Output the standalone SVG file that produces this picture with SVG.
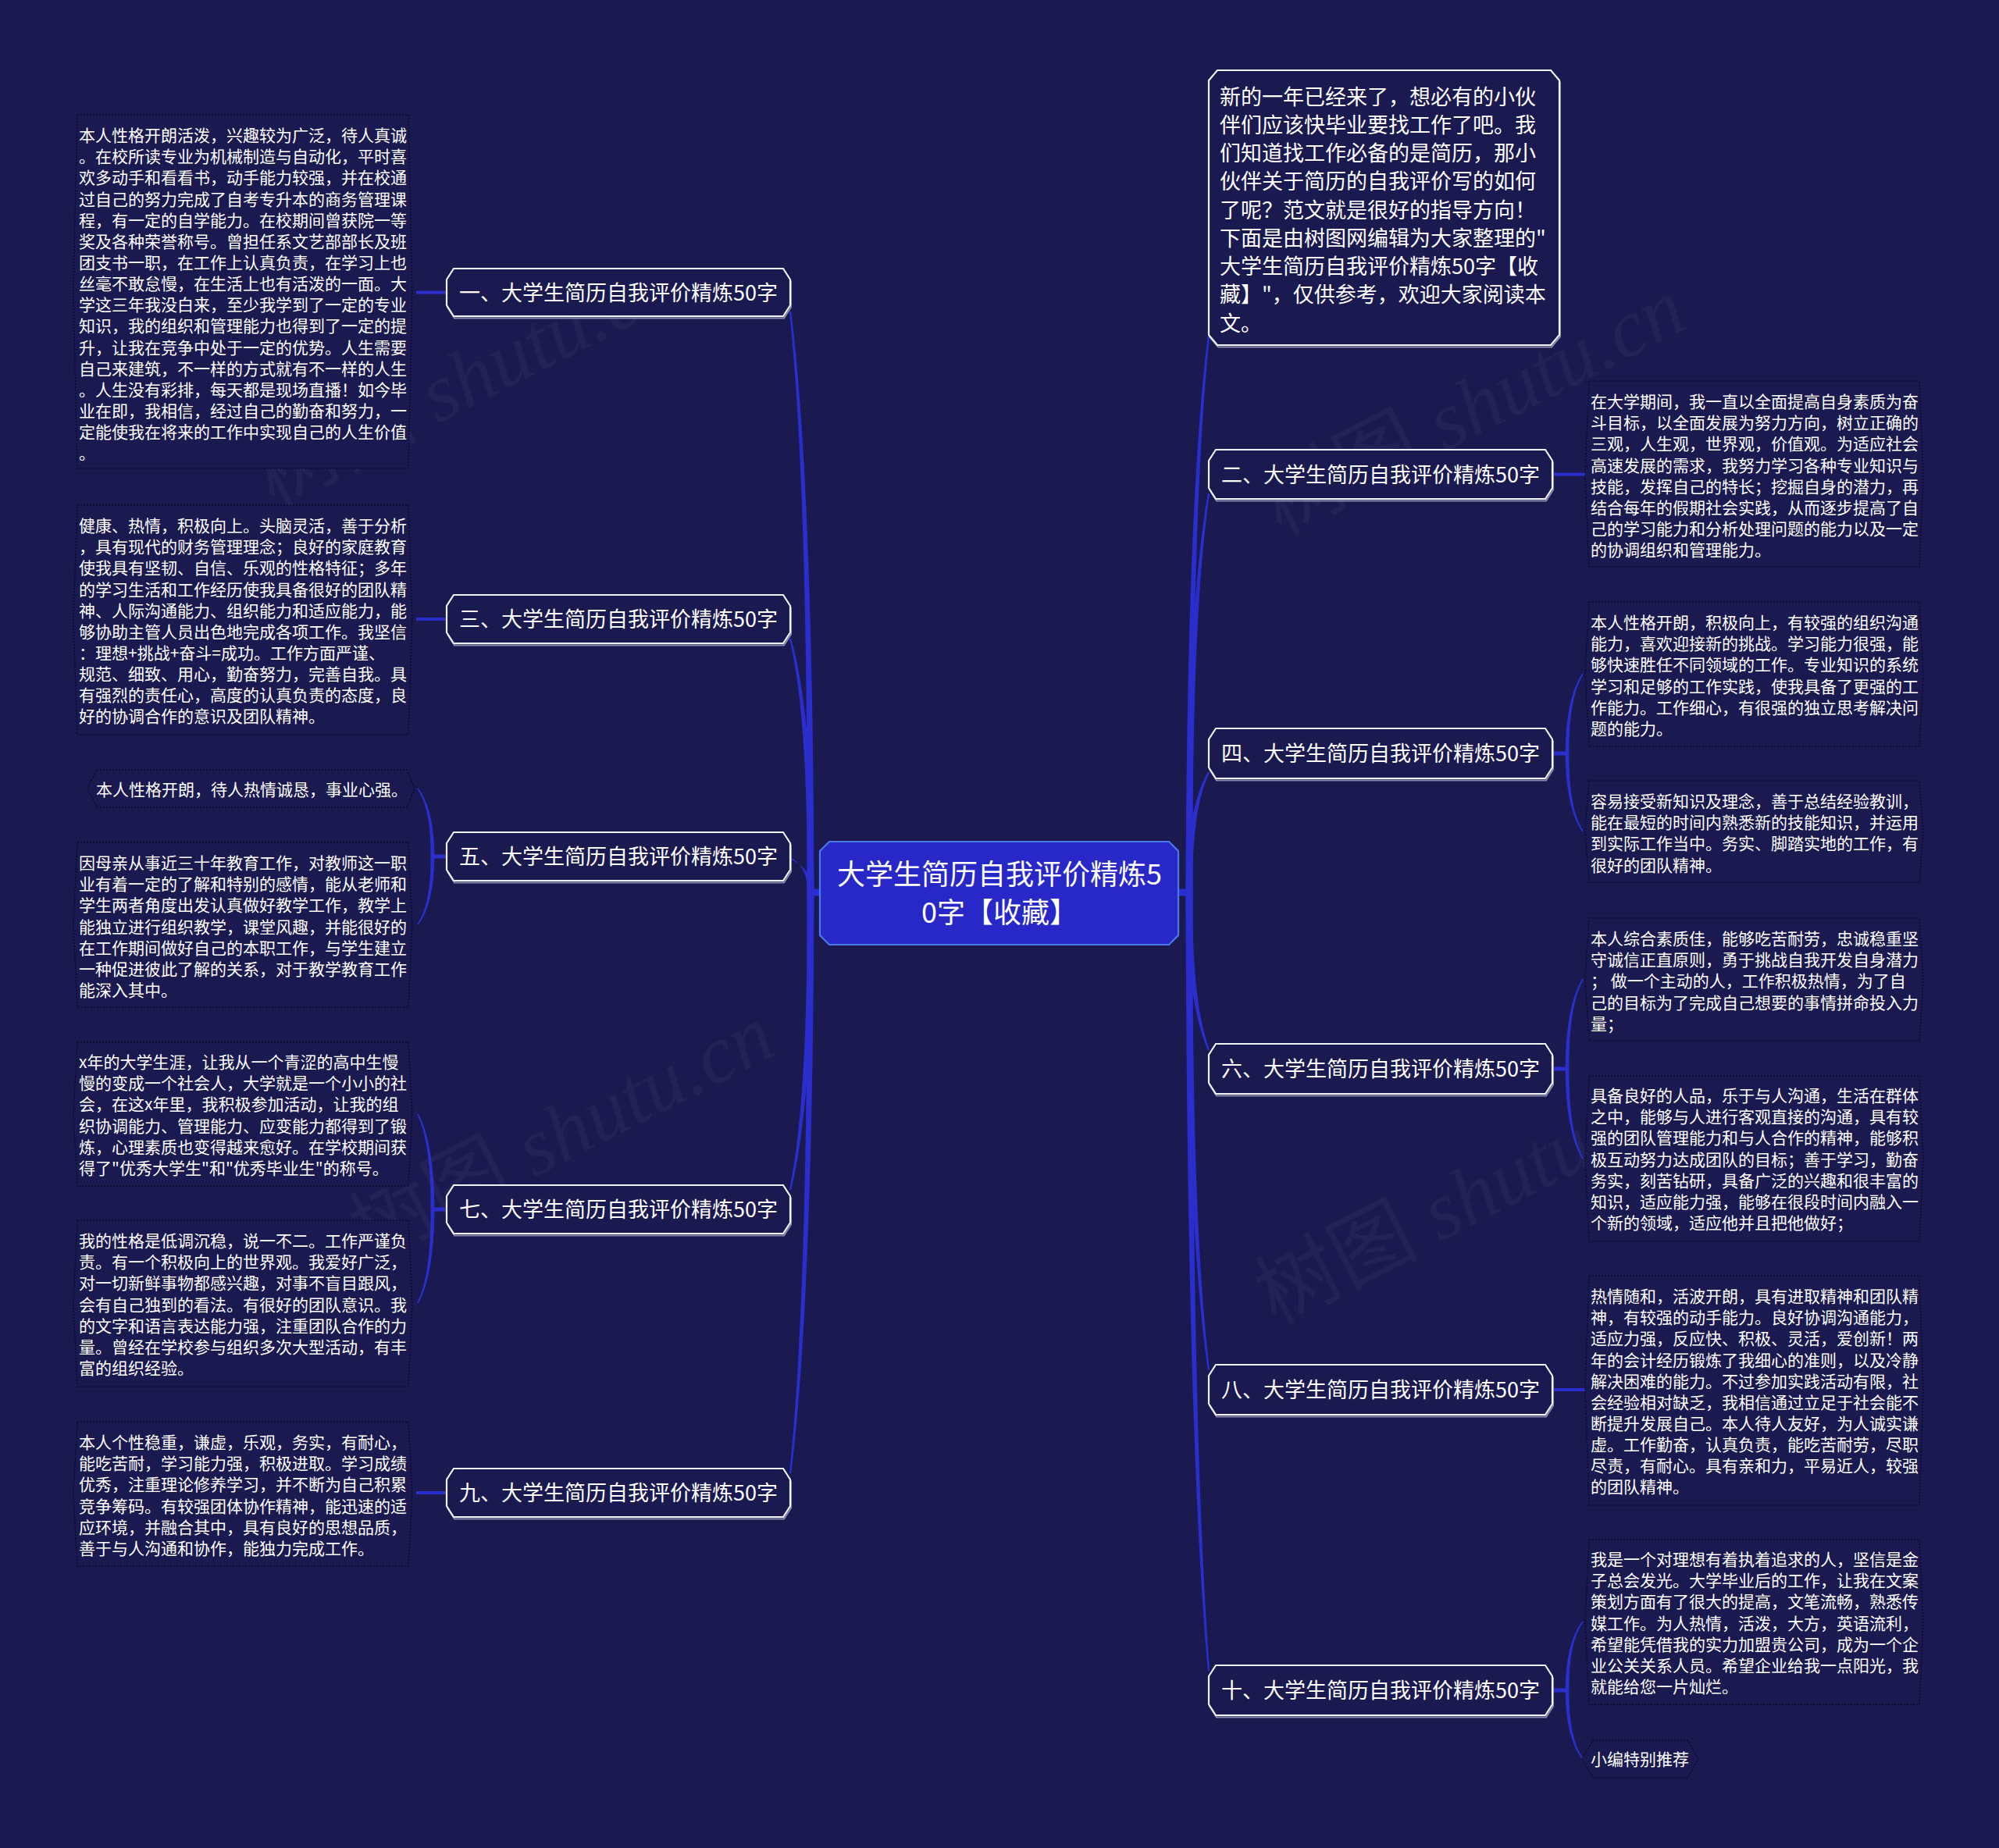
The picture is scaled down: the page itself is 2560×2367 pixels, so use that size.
<svg xmlns="http://www.w3.org/2000/svg" xmlns:xlink="http://www.w3.org/1999/xlink" width="2560" height="2367" viewBox="0 0 2560 2367">
<style>
.bg{fill:#1A1950}
.conn{fill:#2A2ECC}
.cl{stroke:#2A2ECC;fill:none}
.nd{fill:#1A1950;stroke:#F2F2FA;stroke-width:2.2}
.sh{fill:none;stroke:#8A8AAA;stroke-width:2}
.root{fill:#2828C8;stroke:#4A78E6;stroke-width:2.2}
.leaf{fill:#1A1950;stroke:#0A0A2C;stroke-width:1.3;stroke-dasharray:2 2}
.t{font-family:"Noto Sans CJK SC","Noto Sans",sans-serif;fill:#FFFFFF}
.tl{font-size:21px}
.tb{font-size:27px}
.tr{font-size:36px}
.wm{font-family:"Liberation Serif","Noto Sans CJK SC",serif;font-size:105px;fill:#FFFFFF;fill-opacity:0.04}
</style>
<defs>
<polygon id="n1" points="581,344 1003,344 1012,358 1012,391 1003,405 581,405 572,391 572,358"/>
<polygon id="n3" points="581,762 1003,762 1012,776 1012,810 1003,824 581,824 572,810 572,776"/>
<polygon id="n5" points="581,1066 1003,1066 1012,1080 1012,1114 1003,1128 581,1128 572,1114 572,1080"/>
<polygon id="n7" points="581,1518 1003,1518 1012,1532 1012,1566 1003,1580 581,1580 572,1566 572,1532"/>
<polygon id="n9" points="581,1881 1003,1881 1012,1895 1012,1929 1003,1943 581,1943 572,1929 572,1895"/>
<polygon id="n2" points="1557,576 1979,576 1988,590 1988,625 1979,639 1557,639 1548,625 1548,590"/>
<polygon id="n4" points="1557,933 1979,933 1988,947 1988,983 1979,997 1557,997 1548,983 1548,947"/>
<polygon id="n6" points="1557,1337 1979,1337 1988,1351 1988,1387 1979,1401 1557,1401 1548,1387 1548,1351"/>
<polygon id="n8" points="1557,1748 1979,1748 1988,1762 1988,1798 1979,1812 1557,1812 1548,1798 1548,1762"/>
<polygon id="n10" points="1557,2133 1979,2133 1988,2147 1988,2183 1979,2197 1557,2197 1548,2183 1548,2147"/>
<polygon id="ni" points="1559,90 1986,90 1997,103 1997,429 1986,442 1559,442 1548,429 1548,103"/>
</defs>
<rect class="bg" x="0" y="0" width="2560" height="2367"/>

<g id="watermarks">
<text class="wm" transform="translate(350,650) rotate(-27)">树图 <tspan font-style="italic">shutu.cn</tspan></text>
<text class="wm" transform="translate(1640,686) rotate(-27)">树图 <tspan font-style="italic">shutu.cn</tspan></text>
<text class="wm" transform="translate(473,1616) rotate(-27)">树图 <tspan font-style="italic">shutu.cn</tspan></text>
<text class="wm" transform="translate(1633,1698) rotate(-27)">树图 <tspan font-style="italic">shutu.cn</tspan></text>
</g>

<g id="connectors">
<rect class="conn" x="1034" y="1138.5" width="18" height="9"/>
<rect class="conn" x="1507" y="1138.5" width="18" height="9"/>
<path class="conn" d="M1033.5,1143 Q1035.1,622 1010.8,399 L1013.2,399 Q1040.9,622 1042.5,1143Z"/>
<path class="conn" d="M1033.5,1143 Q1035.1,915.5 1010.8,818 L1013.2,818 Q1040.9,915.5 1042.5,1143Z"/>
<path class="conn" d="M1033.5,1143 Q1035,1110 1012,1097.8 L1012,1100.2 Q1041,1114 1042.5,1143Z"/>
<path class="conn" d="M1033.5,1143 Q1035.1,1409.7 1010.8,1524 L1013.2,1524 Q1040.9,1409.7 1042.5,1143Z"/>
<path class="conn" d="M1033.5,1143 Q1035.1,1663.8 1010.8,1887 L1013.2,1887 Q1040.9,1663.8 1042.5,1143Z"/>
<path class="conn" d="M1518.5,1143 Q1520.1,643.9 1546.8,430 L1549.2,430 Q1525.9,643.9 1527.5,1143Z"/>
<path class="conn" d="M1518.5,1143 Q1520.1,785.3 1546.8,632 L1549.2,632 Q1525.9,785.3 1527.5,1143Z"/>
<path class="conn" d="M1518.5,1143 Q1520.1,1035.2 1546.8,989 L1549.2,989 Q1525.9,1035.2 1527.5,1143Z"/>
<path class="conn" d="M1518.5,1143 Q1520.1,1284.4 1546.8,1345 L1549.2,1345 Q1525.9,1284.4 1527.5,1143Z"/>
<path class="conn" d="M1518.5,1143 Q1520.1,1571.4 1546.8,1755 L1549.2,1755 Q1525.9,1571.4 1527.5,1143Z"/>
<path class="conn" d="M1518.5,1143 Q1520.1,1840.9 1546.8,2140 L1549.2,2140 Q1525.9,1840.9 1527.5,1143Z"/>
<line class="cl" x1="533" y1="374.5" x2="573" y2="374.5" stroke-width="4"/>
<line class="cl" x1="533" y1="793" x2="573" y2="793" stroke-width="4"/>
<line class="cl" x1="533" y1="1912" x2="573" y2="1912" stroke-width="4"/>
<line class="cl" x1="1987" y1="607.5" x2="2031" y2="607.5" stroke-width="4"/>
<line class="cl" x1="1987" y1="1780" x2="2031" y2="1780" stroke-width="4"/>
<line class="cl" x1="552" y1="1097" x2="573" y2="1097" stroke-width="5"/>
<line class="cl" x1="552" y1="1549" x2="573" y2="1549" stroke-width="5"/>
<line class="cl" x1="1987" y1="965" x2="2009" y2="965" stroke-width="5"/>
<line class="cl" x1="1987" y1="1369" x2="2009" y2="1369" stroke-width="5"/>
<line class="cl" x1="1987" y1="2165" x2="2009" y2="2165" stroke-width="5"/>
<path class="conn" d="M551.5,1097 Q552.3,1036.1 534,1010 L536,1010 Q555.7,1036.1 556.5,1097Z"/>
<path class="conn" d="M551.5,1097 Q552.3,1157.9 534,1184 L536,1184 Q555.7,1157.9 556.5,1097Z"/>
<path class="conn" d="M551.5,1549 Q552.3,1463.6 534,1427 L536,1427 Q555.7,1463.6 556.5,1549Z"/>
<path class="conn" d="M551.5,1549 Q552.3,1633 534,1669 L536,1669 Q555.7,1633 556.5,1549Z"/>
<path class="conn" d="M2004.5,965 Q2005.3,893.6 2026,863 L2028,863 Q2008.7,893.6 2009.5,965Z"/>
<path class="conn" d="M2004.5,965 Q2005.3,1035 2026,1065 L2028,1065 Q2008.7,1035 2009.5,965Z"/>
<path class="conn" d="M2004.5,1369 Q2005.3,1288.5 2026,1254 L2028,1254 Q2008.7,1288.5 2009.5,1369Z"/>
<path class="conn" d="M2004.5,1369 Q2005.3,1449.5 2026,1484 L2028,1484 Q2008.7,1449.5 2009.5,1369Z"/>
<path class="conn" d="M2004.5,2165 Q2005.3,2103.4 2026,2077 L2028,2077 Q2008.7,2103.4 2009.5,2165Z"/>
<path class="conn" d="M2004.5,2165 Q2005.3,2226.6 2026,2253 L2028,2253 Q2008.7,2226.6 2009.5,2165Z"/>
</g>

<g id="root">
<polygon class="root" points="1062,1078 1497,1078 1509,1090 1509,1198 1497,1210 1062,1210 1050,1198 1050,1090"/>
<text class="t tr" text-anchor="middle"><tspan x="1280" y="1132.5">大学生简历自我评价精炼5</tspan><tspan x="1280" y="1181.5">0字【收藏】</tspan></text>
</g>

<g id="intro">
<use xlink:href="#ni" class="sh" transform="translate(1,2.5)"/>
<use xlink:href="#ni" class="nd"/>
<text class="t tb"><tspan x="1562" y="133.6">新的一年已经来了，想必有的小伙</tspan><tspan x="1562" y="169.9">伴们应该快毕业要找工作了吧。我</tspan><tspan x="1562" y="206.1">们知道找工作必备的是简历，那小</tspan><tspan x="1562" y="242.4">伙伴关于简历的自我评价写的如何</tspan><tspan x="1562" y="278.6">了呢？范文就是很好的指导方向！</tspan><tspan x="1562" y="314.9">下面是由树图网编辑为大家整理的"</tspan><tspan x="1562" y="351.1">大学生简历自我评价精炼50字【收</tspan><tspan x="1562" y="387.4">藏】"，仅供参考，欢迎大家阅读本</tspan><tspan x="1562" y="423.6">文。</tspan></text>
</g>

<g id="b1">
<use xlink:href="#n1" class="sh" transform="translate(1,2.5)"/>
<use xlink:href="#n1" class="nd"/>
<text class="t tb" x="792" y="384.5" text-anchor="middle">一、大学生简历自我评价精炼50字</text>
</g>
<g id="b3">
<use xlink:href="#n3" class="sh" transform="translate(1,2.5)"/>
<use xlink:href="#n3" class="nd"/>
<text class="t tb" x="792" y="803" text-anchor="middle">三、大学生简历自我评价精炼50字</text>
</g>
<g id="b5">
<use xlink:href="#n5" class="sh" transform="translate(1,2.5)"/>
<use xlink:href="#n5" class="nd"/>
<text class="t tb" x="792" y="1107" text-anchor="middle">五、大学生简历自我评价精炼50字</text>
</g>
<g id="b7">
<use xlink:href="#n7" class="sh" transform="translate(1,2.5)"/>
<use xlink:href="#n7" class="nd"/>
<text class="t tb" x="792" y="1559" text-anchor="middle">七、大学生简历自我评价精炼50字</text>
</g>
<g id="b9">
<use xlink:href="#n9" class="sh" transform="translate(1,2.5)"/>
<use xlink:href="#n9" class="nd"/>
<text class="t tb" x="792" y="1922" text-anchor="middle">九、大学生简历自我评价精炼50字</text>
</g>
<g id="b2">
<use xlink:href="#n2" class="sh" transform="translate(1,2.5)"/>
<use xlink:href="#n2" class="nd"/>
<text class="t tb" x="1768" y="617.5" text-anchor="middle">二、大学生简历自我评价精炼50字</text>
</g>
<g id="b4">
<use xlink:href="#n4" class="sh" transform="translate(1,2.5)"/>
<use xlink:href="#n4" class="nd"/>
<text class="t tb" x="1768" y="975" text-anchor="middle">四、大学生简历自我评价精炼50字</text>
</g>
<g id="b6">
<use xlink:href="#n6" class="sh" transform="translate(1,2.5)"/>
<use xlink:href="#n6" class="nd"/>
<text class="t tb" x="1768" y="1379" text-anchor="middle">六、大学生简历自我评价精炼50字</text>
</g>
<g id="b8">
<use xlink:href="#n8" class="sh" transform="translate(1,2.5)"/>
<use xlink:href="#n8" class="nd"/>
<text class="t tb" x="1768" y="1790" text-anchor="middle">八、大学生简历自我评价精炼50字</text>
</g>
<g id="b10">
<use xlink:href="#n10" class="sh" transform="translate(1,2.5)"/>
<use xlink:href="#n10" class="nd"/>
<text class="t tb" x="1768" y="2175" text-anchor="middle">十、大学生简历自我评价精炼50字</text>
</g>

<g id="leaf1">
<polygon class="leaf" points="99,147 523,147 528,373.5 523,600 99,600 94,373.5"/>
<text class="t tl"><tspan x="101" y="181">本人性格开朗活泼，兴趣较为广泛，待人真诚</tspan><tspan x="101" y="208.2">。在校所读专业为机械制造与自动化，平时喜</tspan><tspan x="101" y="235.3">欢多动手和看看书，动手能力较强，并在校通</tspan><tspan x="101" y="262.5">过自己的努力完成了自考专升本的商务管理课</tspan><tspan x="101" y="289.6">程，有一定的自学能力。在校期间曾获院一等</tspan><tspan x="101" y="316.8">奖及各种荣誉称号。曾担任系文艺部部长及班</tspan><tspan x="101" y="343.9">团支书一职，在工作上认真负责，在学习上也</tspan><tspan x="101" y="371.1">丝毫不敢怠慢，在生活上也有活泼的一面。大</tspan><tspan x="101" y="398.2">学这三年我没白来，至少我学到了一定的专业</tspan><tspan x="101" y="425.4">知识，我的组织和管理能力也得到了一定的提</tspan><tspan x="101" y="452.5">升，让我在竞争中处于一定的优势。人生需要</tspan><tspan x="101" y="479.7">自己来建筑，不一样的方式就有不一样的人生</tspan><tspan x="101" y="506.8">。人生没有彩排，每天都是现场直播！如今毕</tspan><tspan x="101" y="534">业在即，我相信，经过自己的勤奋和努力，一</tspan><tspan x="101" y="561.1">定能使我在将来的工作中实现自己的人生价值</tspan><tspan x="101" y="588.3">。</tspan></text>
</g>

<g id="leaf3">
<polygon class="leaf" points="99,647 523,647 528,794 523,941 99,941 94,794"/>
<text class="t tl"><tspan x="101" y="681">健康、热情，积极向上。头脑灵活，善于分析</tspan><tspan x="101" y="708.2">，具有现代的财务管理理念；良好的家庭教育</tspan><tspan x="101" y="735.3">使我具有坚韧、自信、乐观的性格特征；多年</tspan><tspan x="101" y="762.5">的学习生活和工作经历使我具备很好的团队精</tspan><tspan x="101" y="789.6">神、人际沟通能力、组织能力和适应能力，能</tspan><tspan x="101" y="816.8">够协助主管人员出色地完成各项工作。我坚信</tspan><tspan x="101" y="843.9">：理想+挑战+奋斗=成功。工作方面严谨、</tspan><tspan x="101" y="871.1">规范、细致、用心，勤奋努力，完善自我。具</tspan><tspan x="101" y="898.2">有强烈的责任心，高度的认真负责的态度，良</tspan><tspan x="101" y="925.4">好的协调合作的意识及团队精神。</tspan></text>
</g>

<g id="leaf5a">
<polygon class="leaf" points="124,986 521,986 531,1010 521,1034 124,1034 112,1010"/>
<text class="t tl" x="123" y="1019">本人性格开朗，待人热情诚恳，事业心强。</text>
</g>

<g id="leaf5b">
<polygon class="leaf" points="99,1079 523,1079 528,1184.5 523,1290 99,1290 94,1184.5"/>
<text class="t tl"><tspan x="101" y="1113">因母亲从事近三十年教育工作，对教师这一职</tspan><tspan x="101" y="1140.2">业有着一定的了解和特别的感情，能从老师和</tspan><tspan x="101" y="1167.3">学生两者角度出发认真做好教学工作，教学上</tspan><tspan x="101" y="1194.5">能独立进行组织教学，课堂风趣，并能很好的</tspan><tspan x="101" y="1221.6">在工作期间做好自己的本职工作，与学生建立</tspan><tspan x="101" y="1248.8">一种促进彼此了解的关系，对于教学教育工作</tspan><tspan x="101" y="1275.9">能深入其中。</tspan></text>
</g>

<g id="leaf7a">
<polygon class="leaf" points="99,1335 523,1335 528,1427 523,1519 99,1519 94,1427"/>
<text class="t tl"><tspan x="101" y="1368">x年的大学生涯，让我从一个青涩的高中生慢</tspan><tspan x="101" y="1395.2">慢的变成一个社会人，大学就是一个小小的社</tspan><tspan x="101" y="1422.3">会，在这x年里，我积极参加活动，让我的组</tspan><tspan x="101" y="1449.5">织协调能力、管理能力、应变能力都得到了锻</tspan><tspan x="101" y="1476.6">炼，心理素质也变得越来愈好。在学校期间获</tspan><tspan x="101" y="1503.8">得了"优秀大学生"和"优秀毕业生"的称号。</tspan></text>
</g>

<g id="leaf7b">
<polygon class="leaf" points="99,1563 523,1563 528,1669.5 523,1776 99,1776 94,1669.5"/>
<text class="t tl"><tspan x="101" y="1597">我的性格是低调沉稳，说一不二。工作严谨负</tspan><tspan x="101" y="1624.2">责。有一个积极向上的世界观。我爱好广泛，</tspan><tspan x="101" y="1651.3">对一切新鲜事物都感兴趣，对事不盲目跟风，</tspan><tspan x="101" y="1678.5">会有自己独到的看法。有很好的团队意识。我</tspan><tspan x="101" y="1705.6">的文字和语言表达能力强，注重团队合作的力</tspan><tspan x="101" y="1732.8">量。曾经在学校参与组织多次大型活动，有丰</tspan><tspan x="101" y="1759.9">富的组织经验。</tspan></text>
</g>

<g id="leaf9">
<polygon class="leaf" points="99,1821 523,1821 528,1913.5 523,2006 99,2006 94,1913.5"/>
<text class="t tl"><tspan x="101" y="1855">本人个性稳重，谦虚，乐观，务实，有耐心，</tspan><tspan x="101" y="1882.2">能吃苦耐，学习能力强，积极进取。学习成绩</tspan><tspan x="101" y="1909.3">优秀，注重理论修养学习，并不断为自己积累</tspan><tspan x="101" y="1936.5">竞争筹码。有较强团体协作精神，能迅速的适</tspan><tspan x="101" y="1963.6">应环境，并融合其中，具有良好的思想品质，</tspan><tspan x="101" y="1990.8">善于与人沟通和协作，能独力完成工作。</tspan></text>
</g>

<g id="leaf2">
<polygon class="leaf" points="2035,488 2458,488 2463,607 2458,726 2035,726 2030,607"/>
<text class="t tl"><tspan x="2037" y="522">在大学期间，我一直以全面提高自身素质为奋</tspan><tspan x="2037" y="549.2">斗目标，以全面发展为努力方向，树立正确的</tspan><tspan x="2037" y="576.3">三观，人生观，世界观，价值观。为适应社会</tspan><tspan x="2037" y="603.5">高速发展的需求，我努力学习各种专业知识与</tspan><tspan x="2037" y="630.6">技能，发挥自己的特长；挖掘自身的潜力，再</tspan><tspan x="2037" y="657.8">结合每年的假期社会实践，从而逐步提高了自</tspan><tspan x="2037" y="684.9">己的学习能力和分析处理问题的能力以及一定</tspan><tspan x="2037" y="712.1">的协调组织和管理能力。</tspan></text>
</g>

<g id="leaf4a">
<polygon class="leaf" points="2035,771 2458,771 2463,863.5 2458,956 2035,956 2030,863.5"/>
<text class="t tl"><tspan x="2037" y="805">本人性格开朗，积极向上，有较强的组织沟通</tspan><tspan x="2037" y="832.2">能力，喜欢迎接新的挑战。学习能力很强，能</tspan><tspan x="2037" y="859.3">够快速胜任不同领域的工作。专业知识的系统</tspan><tspan x="2037" y="886.5">学习和足够的工作实践，使我具备了更强的工</tspan><tspan x="2037" y="913.6">作能力。工作细心，有很强的独立思考解决问</tspan><tspan x="2037" y="940.8">题的能力。</tspan></text>
</g>

<g id="leaf4b">
<polygon class="leaf" points="2035,1000 2458,1000 2463,1065 2458,1130 2035,1130 2030,1065"/>
<text class="t tl"><tspan x="2037" y="1034">容易接受新知识及理念，善于总结经验教训，</tspan><tspan x="2037" y="1061.2">能在最短的时间内熟悉新的技能知识，并运用</tspan><tspan x="2037" y="1088.3">到实际工作当中。务实、脚踏实地的工作，有</tspan><tspan x="2037" y="1115.5">很好的团队精神。</tspan></text>
</g>

<g id="leaf6a">
<polygon class="leaf" points="2035,1176 2458,1176 2463,1254.5 2458,1333 2035,1333 2030,1254.5"/>
<text class="t tl"><tspan x="2037" y="1210">本人综合素质佳，能够吃苦耐劳，忠诚稳重坚</tspan><tspan x="2037" y="1237.2">守诚信正直原则，勇于挑战自我开发自身潜力</tspan><tspan x="2037" y="1264.3">； 做一个主动的人，工作积极热情，为了自</tspan><tspan x="2037" y="1291.5">己的目标为了完成自己想要的事情拼命投入力</tspan><tspan x="2037" y="1318.6">量；</tspan></text>
</g>

<g id="leaf6b">
<polygon class="leaf" points="2035,1378 2458,1378 2463,1484 2458,1590 2035,1590 2030,1484"/>
<text class="t tl"><tspan x="2037" y="1411">具备良好的人品，乐于与人沟通，生活在群体</tspan><tspan x="2037" y="1438.2">之中，能够与人进行客观直接的沟通，具有较</tspan><tspan x="2037" y="1465.3">强的团队管理能力和与人合作的精神，能够积</tspan><tspan x="2037" y="1492.5">极互动努力达成团队的目标；善于学习，勤奋</tspan><tspan x="2037" y="1519.6">务实，刻苦钻研，具备广泛的兴趣和很丰富的</tspan><tspan x="2037" y="1546.8">知识，适应能力强，能够在很段时间内融入一</tspan><tspan x="2037" y="1573.9">个新的领域，适应他并且把他做好；</tspan></text>
</g>

<g id="leaf8">
<polygon class="leaf" points="2035,1634 2458,1634 2463,1781 2458,1928 2035,1928 2030,1781"/>
<text class="t tl"><tspan x="2037" y="1668">热情随和，活波开朗，具有进取精神和团队精</tspan><tspan x="2037" y="1695.2">神，有较强的动手能力。良好协调沟通能力，</tspan><tspan x="2037" y="1722.3">适应力强，反应快、积极、灵活，爱创新！两</tspan><tspan x="2037" y="1749.5">年的会计经历锻炼了我细心的准则，以及冷静</tspan><tspan x="2037" y="1776.6">解决困难的能力。不过参加实践活动有限，社</tspan><tspan x="2037" y="1803.8">会经验相对缺乏，我相信通过立足于社会能不</tspan><tspan x="2037" y="1830.9">断提升发展自己。本人待人友好，为人诚实谦</tspan><tspan x="2037" y="1858.1">虚。工作勤奋，认真负责，能吃苦耐劳，尽职</tspan><tspan x="2037" y="1885.2">尽责，有耐心。具有亲和力，平易近人，较强</tspan><tspan x="2037" y="1912.4">的团队精神。</tspan></text>
</g>

<g id="leaf10a">
<polygon class="leaf" points="2035,1972 2458,1972 2463,2077.5 2458,2183 2035,2183 2030,2077.5"/>
<text class="t tl"><tspan x="2037" y="2005">我是一个对理想有着执着追求的人，坚信是金</tspan><tspan x="2037" y="2032.2">子总会发光。大学毕业后的工作，让我在文案</tspan><tspan x="2037" y="2059.3">策划方面有了很大的提高，文笔流畅，熟悉传</tspan><tspan x="2037" y="2086.5">媒工作。为人热情，活泼，大方，英语流利，</tspan><tspan x="2037" y="2113.6">希望能凭借我的实力加盟贵公司，成为一个企</tspan><tspan x="2037" y="2140.8">业公关关系人员。希望企业给我一点阳光，我</tspan><tspan x="2037" y="2167.9">就能给您一片灿烂。</tspan></text>
</g>

<g id="leaf10b">
<polygon class="leaf" points="2040,2229 2161,2229 2175,2253 2161,2277 2040,2277 2026,2253"/>
<text class="t tl" x="2037" y="2261">小编特别推荐</text>
</g>
</svg>
